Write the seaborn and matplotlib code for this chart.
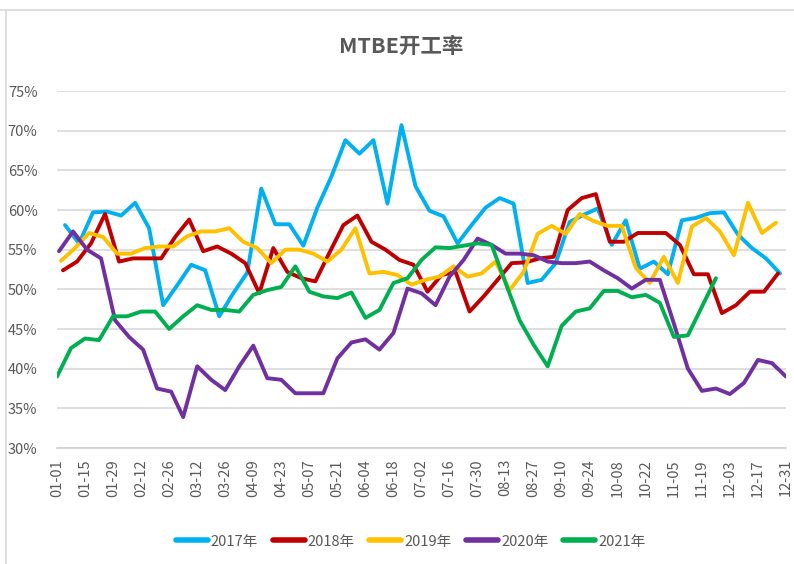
import numpy as np
import pandas as pd
import matplotlib.pyplot as plt
import seaborn as sns
from matplotlib.lines import Line2D

# data (weekly MTBE operating rate, %)
years = ["2017年", "2018年", "2019年", "2020年", "2021年"]
start_dates = ["2017-01-05", "2018-01-04", "2019-01-03", "2020-01-02", "2021-01-01"]
colors = ["#00B0F0", "#C00000", "#FFC000", "#7030A0", "#00B050"]

rate_2017 = [58.1, 55.8, 59.7, 59.8, 59.3, 60.9, 57.7, 48.0, 50.5, 53.1,
             52.4, 46.6, 49.5, 52.1, 62.7, 58.2, 58.2, 55.5, 60.3, 64.2,
             68.8, 67.1, 68.8, 60.8, 70.7, 63.0, 59.9, 59.2, 55.8, 58.1,
             60.3, 61.5, 60.8, 50.8, 51.2, 53.3, 58.5, 59.4, 60.2, 55.6,
             58.7, 52.6, 53.5, 51.9, 58.7, 59.0, 59.6, 59.7, 56.9, 55.2,
             53.9, 52.0]
rate_2018 = [52.4, 53.5, 55.8, 59.5, 53.5, 53.9, 53.9, 53.9, 56.6, 58.8,
             54.8, 55.4, 54.5, 53.3, 49.5, 55.2, 52.2, 51.4, 51.0, 54.6,
             58.1, 59.3, 56.0, 55.0, 53.7, 53.1, 49.7, 51.8, 52.2, 47.2,
             49.1, 51.2, 53.3, 53.4, 53.9, 54.1, 60.0, 61.5, 62.0, 56.0,
             56.0, 57.1, 57.1, 57.1, 55.6, 51.9, 51.9, 47.0, 48.0, 49.7,
             49.7, 52.0]
rate_2019 = [53.6, 55.2, 57.1, 56.6, 54.5, 54.5, 55.2, 55.4, 55.4, 56.7,
             57.3, 57.3, 57.7, 56.0, 55.2, 53.3, 55.0, 55.0, 54.5, 53.5,
             55.0, 57.7, 52.0, 52.2, 51.8, 50.6, 51.2, 51.6, 52.9, 51.6,
             52.0, 53.5, 49.9, 52.2, 57.0, 58.0, 57.0, 59.5, 58.6, 58.0,
             58.0, 52.7, 50.8, 54.1, 50.8, 57.9, 59.0, 57.3, 54.3, 60.9,
             57.1, 58.4]
rate_2020 = [54.8, 57.3, 55.0, 53.9, 46.1, 44.0, 42.4, 37.5, 37.1, 33.9,
             40.3, 38.6, 37.3, 40.3, 42.9, 38.8, 38.6, 36.9, 36.9, 36.9,
             41.3, 43.3, 43.7, 42.4, 44.5, 50.1, 49.5, 48.0, 51.6, 53.7,
             56.4, 55.6, 54.5, 54.5, 54.3, 53.5, 53.3, 53.3, 53.5, 52.4,
             51.4, 50.1, 51.2, 51.2, 45.7, 40.0, 37.2, 37.5, 36.8, 38.2,
             41.1, 40.7, 39.0]
rate_2021 = [39.0, 42.6, 43.8, 43.6, 46.6, 46.6, 47.2, 47.2, 45.0, 46.6,
             48.0, 47.4, 47.4, 47.2, 49.3, 49.9, 50.3, 52.9, 49.7, 49.1,
             48.9, 49.6, 46.4, 47.4, 50.8, 51.4, 53.7, 55.3, 55.2, 55.5,
             55.8, 55.6, 50.8, 46.1, 43.0, 40.3, 45.4, 47.2, 47.6, 49.8,
             49.8, 49.0, 49.3, 48.3, 44.0, 44.2, 47.8, 51.4]

tick_labels = ["01-01", "01-15", "01-29", "02-12", "02-26", "03-12", "03-26",
               "04-09", "04-23", "05-07", "05-21", "06-04", "06-18", "07-02",
               "07-16", "07-30", "08-13", "08-27", "09-10", "09-24", "10-08",
               "10-22", "11-05", "11-19", "12-03", "12-17", "12-31"]

series = [rate_2017, rate_2018, rate_2019, rate_2020, rate_2021]

# long table, x = day of year on a common (non-leap) calendar
frames = []
for name, start, vals in zip(years, start_dates, series):
    dates = pd.date_range(start, periods=len(vals), freq="7D")
    day = [d.replace(year=2021).dayofyear - 1 for d in dates]
    frames.append(pd.DataFrame({"day": day, "rate": vals, "year": name}))
df = pd.concat(frames, ignore_index=True)

tick_days = [pd.Timestamp("2021-" + t).dayofyear - 1 for t in tick_labels]

sns.set_style("white")
plt.rcParams["font.family"] = ["Liberation Sans Narrow", "Noto Sans CJK SC", "DejaVu Sans"]

grey = "#595959"
fig = plt.figure(figsize=(7.94, 5.64), dpi=100)
ax = fig.add_axes([57 / 794, 1 - 448 / 564, 729 / 794, 357 / 564])

sns.lineplot(data=df, x="day", y="rate", hue="year", hue_order=years,
             palette=colors, linewidth=2.8, ax=ax, legend=True)

ax.set_xlim(0, 364)
ax.set_ylim(30, 75)
ax.set_yticks(np.arange(30, 76, 5))
ax.set_yticklabels([f"{v}%" for v in range(30, 76, 5)])
ax.set_xticks(tick_days)
ax.set_xticklabels(tick_labels, rotation=90)
ax.grid(axis="y", color="#d9d9d9", linewidth=1.2)
ax.set_axisbelow(True)
for s in ["left", "right", "top"]:
    ax.spines[s].set_visible(False)
ax.spines["bottom"].set_color("#d0d0d0")
ax.spines["bottom"].set_linewidth(1.2)
ax.tick_params(axis="x", length=5, color="#d0d0d0", width=1.2, colors=grey,
               labelsize=10.5, pad=3)
ax.tick_params(axis="y", length=0, colors=grey, labelsize=10.5, pad=14)
ax.set_xlabel("")
ax.set_ylabel("")

fig.text(0.505, 0.918, "MTBE开工率", ha="center", va="center", fontsize=15.5,
         fontweight="bold", color=grey,
         family=["Noto Sans CJK SC", "DejaVu Sans"])

ax.legend(loc="center", bbox_to_anchor=(0.485, -0.262), ncol=5, frameon=False,
          fontsize=10.5, handlelength=2.2, handletextpad=0.2,
          columnspacing=1.0, labelcolor=grey)
for line in ax.get_legend().get_lines():
    line.set_linewidth(4)

# chart border like the spreadsheet frame
fig.add_artist(Line2D([0, 1], [1 - 10 / 564] * 2, color="#d9d9d9", linewidth=1.2))
fig.add_artist(Line2D([6 / 794] * 2, [0, 1 - 10 / 564], color="#d9d9d9", linewidth=1.2))

fig.savefig("out.png", dpi=100)
